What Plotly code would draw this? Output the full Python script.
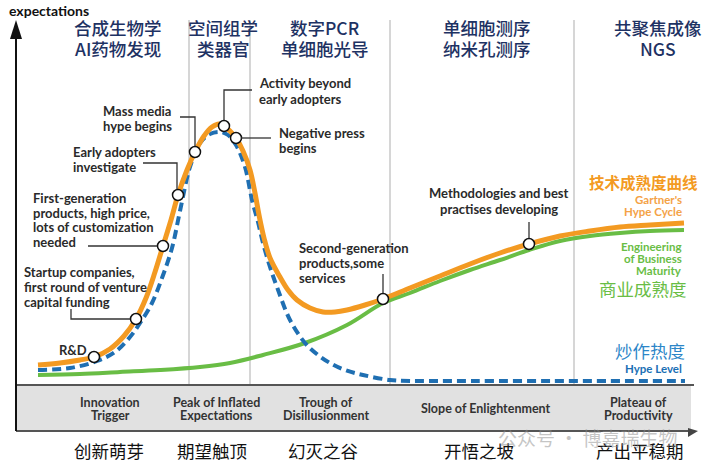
import plotly.graph_objects as go

# ---------------- data (time units on x, expectation level on y; 0 = baseline) -------------
hype_cycle_t = [22, 44, 64, 78, 94, 108, 120, 130, 139, 147, 155, 162, 171, 179, 188, 196, 203, 208,
                214, 220, 227, 234, 239, 243, 248, 254, 264, 272, 281, 294, 307, 319, 331, 349, 367,
                394, 424, 454, 484, 513, 544, 574, 604, 634, 668]
hype_cycle_e = [20, 22, 25, 28, 36, 49, 66, 87, 113, 139, 165, 190, 215, 233, 249, 258, 261, 259,
                254, 247, 234, 215, 192, 170, 147, 127, 108, 95, 85, 77, 73, 73, 75, 80, 86,
                97, 109, 121, 132, 141, 149, 154, 158, 160, 162]

hype_level_t = [22, 54, 81, 99, 114, 126, 136, 146, 156, 164, 174, 184, 194, 204, 212, 220, 229,
                236, 242, 247, 254, 261, 274, 289, 302, 314, 329, 347, 374, 394, 434, 534, 669]
hype_level_e = [15, 17, 24, 33, 48, 65, 82, 107, 137, 174, 218, 242, 251, 253, 250, 240, 218,
                185, 163, 142, 118, 98, 65, 42, 30, 22, 15, 10, 5, 4, 4, 4, 4]

maturity_t = [22, 64, 104, 144, 184, 214, 247, 289, 331, 367, 394, 424, 454, 484, 513, 544, 574,
              604, 634, 668]
maturity_e = [10, 11, 13, 15, 18, 22, 30, 42, 60, 82, 92, 104, 115, 125, 135, 144, 149, 152, 154, 155]

milestone_names = ["R&D", "Startup companies", "First-generation products", "Early adopters",
                   "Mass media", "Activity beyond early adopters", "Negative press",
                   "Second-generation products", "Methodologies"]
milestone_t = [78, 120, 147, 162, 179, 208, 220, 367, 513]
milestone_e = [28, 66, 139, 190, 233, 259, 247, 86, 141]

phase_boundaries_t = [173, 234, 374, 558]

top_tech_labels = [["合成生物学", "AI药物发现"], ["空间组学", "类器官"], ["数字PCR", "单细胞光导"],
                   ["单细胞测序", "纳米孔测序"], ["共聚焦成像", "NGS"]]
phase_labels_en = [["Innovation", "Trigger"], ["Peak of Inflated", "Expectations"],
                   ["Trough of", "Disillusionment"], ["Slope of Enlightenment"],
                   ["Plateau of", "Productivity"]]
phase_labels_zh = ["创新萌芽", "期望触顶", "幻灭之谷", "开悟之坡", "产出平稳期"]

ORANGE = "#F39A22"
GREEN = "#69BD45"
BLUE = "#1F6FB2"
NAVY = "#1E3263"
DARK = "#2a2a2a"
EN_FONT = "Lato"
CJK_FONT = "Noto Sans CJK SC"

# pixel helpers (layout placement only)
def X(px):
    return px - 16

def Y(py):
    return 385 - py

fig = go.Figure()

fig.add_trace(go.Scatter(x=maturity_t, y=maturity_e, mode="lines", line=dict(color=GREEN, width=4, shape="spline"),
                         hoverinfo="skip", showlegend=False))
fig.add_trace(go.Scatter(x=hype_level_t, y=hype_level_e, mode="lines",
                         line=dict(color=BLUE, width=4, dash="9px,5px", shape="spline"),
                         hoverinfo="skip", showlegend=False))
fig.add_trace(go.Scatter(x=hype_cycle_t, y=hype_cycle_e, mode="lines", line=dict(color=ORANGE, width=5, shape="spline"),
                         hoverinfo="skip", showlegend=False))
fig.add_trace(go.Scatter(x=milestone_t, y=milestone_e, mode="markers", text=milestone_names,
                         marker=dict(size=11, color="white", line=dict(color="#111", width=1.5)),
                         hoverinfo="text", showlegend=False))

shapes = []
# phase boundary lines
for t in phase_boundaries_t:
    shapes.append(dict(type="line", x0=t, x1=t, y0=0, y1=Y(20), line=dict(color="#c9c9c9", width=1.5), layer="below"))
# bottom band
shapes.append(dict(type="rect", x0=X(16), x1=X(691), y0=Y(385), y1=Y(431), fillcolor="#e1e1e1",
                   line=dict(width=0), layer="below"))
shapes.append(dict(type="line", x0=X(16), x1=X(694), y0=Y(385), y1=Y(385), line=dict(color="#555", width=2)))
shapes.append(dict(type="line", x0=X(16), x1=X(692), y0=Y(431), y1=Y(431), line=dict(color="#555", width=2)))
shapes.append(dict(type="path", path=f"M {X(688)} {Y(428)} L {X(698)} {Y(431)} L {X(688)} {Y(437)} Z",
                   fillcolor="#444", line=dict(width=0)))
# y axis with arrow
shapes.append(dict(type="line", x0=0, x1=0, y0=Y(431), y1=Y(36), line=dict(color="#111", width=2)))
shapes.append(dict(type="path", path=f"M {X(16)} {Y(20)} L {X(10)} {Y(39)} L {X(22)} {Y(39)} Z",
                   fillcolor="#111", line=dict(width=0)))

# leader lines (pixel points)
leaders = [
    [(71, 309), (71, 319), (130, 319)],
    [(88, 246), (157, 246)],
    [(143, 163), (177, 163), (177, 189)],
    [(180, 117), (195, 117), (195, 146)],
    [(252, 90), (224, 90), (224, 120)],
    [(241, 138), (271, 138)],
    [(383, 274), (383, 293)],
    [(529, 222), (529, 238)],
]
for pts in leaders:
    p = "M " + " L ".join(f"{X(a)} {Y(b)}" for a, b in pts)
    shapes.append(dict(type="path", path=p, line=dict(color="#333", width=1.3)))

annotations = []

def txt(px, py, s, size, color, anchor="center", weight="normal", family=EN_FONT):
    annotations.append(dict(x=X(px), y=Y(py), text=s, showarrow=False, xanchor=anchor, yanchor="middle",
                            font=dict(family=family, size=size, color=color, weight=weight)))

def block(px, py, lines, spacing, size, color, anchor="center", weight="normal", family=EN_FONT):
    for i, s in enumerate(lines):
        txt(px, py + i * spacing, s, size, color, anchor, weight, family)

# axis title
txt(7, 10, "expectations", 14, "#111", "left", "bold")

# top technology labels
for cx, lines in zip([118, 223, 325, 487, 658], top_tech_labels):
    block(cx, 27, lines, 21, 17.5, NAVY, weight=500, family=CJK_FONT)

# milestone annotations
AS = 13
block(57, 350, ["R&D"], 15, AS, DARK, "left", "bold")
block(22, 272, ["Startup companies,", "first round of venture", "capital funding"], 15, AS, DARK, "left", "bold")
block(31, 198, ["First-generation", "products, high price,", "lots of customization", "needed"], 14.7, AS, DARK, "left", "bold")
block(71, 152, ["Early adopters", "investigate"], 15, AS, DARK, "left", "bold")
block(101, 111, ["Mass media", "hype begins"], 15, AS, DARK, "left", "bold")
block(257, 83, ["Activity beyond", "early adopters"], 16, AS, DARK, "left", "bold")
block(277, 133, ["Negative press", "begins"], 15, AS, DARK, "left", "bold")
block(297, 248, ["Second-generation", "products,some", "services"], 15, AS, DARK, "left", "bold")
block(499, 193, ["Methodologies and best", "practises developing"], 16, AS, DARK, "center", "bold")

# right side legend labels
txt(700, 182, "技术成熟度曲线", 15.5, ORANGE, "right", "bold", CJK_FONT)
block(684, 199, ["Gartner's", "Hype Cycle"], 12, 11.5, "#F4A246", "right", "bold")
block(684, 246, ["Engineering", "of Business", "Maturity"], 12, 11.5, GREEN, "right", "bold")
txt(689, 288, "商业成熟度", 17.5, GREEN, "right", "normal", CJK_FONT)
txt(687, 350, "炒作热度", 17.5, "#2C86C8", "right", "normal", CJK_FONT)
txt(684, 368, "Hype Level", 11.5, "#1A6FB5", "right", "bold")

# phase names in band
for cx, lines in zip([110, 216, 326, 486, 638], phase_labels_en):
    if len(lines) == 1:
        block(cx, 408, lines, 13, 12.5, "#333", "center", "bold")
    else:
        block(cx, 402, lines, 13, 12.5, "#333", "center", "bold")

# chinese phase names
for cx, s in zip([109, 212, 323, 479, 640], phase_labels_zh):
    txt(cx, 450, s, 17.5, "#111", "center", "normal", CJK_FONT)

# watermark
txt(588, 437, "公众号 · 博嘉瑞生物", 19, "rgba(140,140,140,0.5)", "center", "normal", CJK_FONT)

fig.update_layout(
    width=714, height=467,
    margin=dict(l=0, r=0, t=0, b=0),
    paper_bgcolor="white", plot_bgcolor="white",
    xaxis=dict(range=[X(0), X(714)], visible=False, fixedrange=True),
    yaxis=dict(range=[Y(467), Y(0)], visible=False, fixedrange=True),
    shapes=shapes, annotations=annotations,
    showlegend=False,
)

fig.write_html("out.html", config={"displayModeBar": False},
               post_script="document.body.style.margin='0';document.body.style.overflow='hidden';")
